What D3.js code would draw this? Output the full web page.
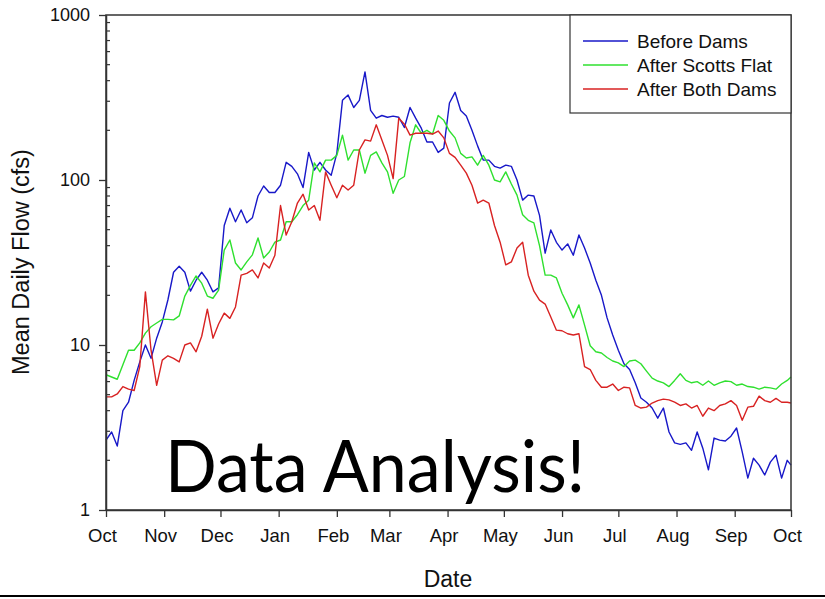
<!DOCTYPE html>
<html>
<head>
<meta charset="utf-8">
<script src="https://cdn.jsdelivr.net/npm/d3@7/dist/d3.min.js"></script>
<style>
  html, body { margin: 0; padding: 0; background: #fff; }
  svg { display: block; }
</style>
</head>
<body>
<svg id="chart" width="825" height="599"></svg>
<script>
// ---- data (mean daily flow, cfs), sampled every 3 days from Oct 1 + final day 365 ----
const dayOffsets = d3.range(0, 364, 3).concat([365]);

const beforeDams = [
  2.65, 2.97, 2.44, 4.0, 4.5, 6.1, 7.9, 10, 8.3, 11.0,
  13.8, 18.8, 27.6, 30, 27.6, 21.2, 24.7, 27.6, 24.7, 21,
  22.2, 53, 67.5, 55.8, 65.8, 55, 59, 80, 92, 84,
  84, 93, 128, 121, 109, 90, 147, 115, 128, 115,
  107, 145, 304, 327, 275, 304, 452, 264, 237, 246,
  240, 244, 240, 208, 275, 237, 206, 170, 170, 147,
  156, 293, 340, 264, 244, 200, 161, 132, 132, 121,
  118, 123, 121, 100, 75.5, 81, 80, 61, 36, 49.8,
  41.9, 37.6, 41, 35, 46.4, 38.7, 31.4, 24.7, 20, 14.6,
  11.5, 9.3, 7.7, 7.1, 5.9, 4.77, 4.5, 4.15, 3.6, 4.15,
  2.97, 2.55, 2.5, 2.55, 2.3, 2.97, 2.37, 1.75, 2.73, 2.65,
  2.62, 2.8, 3.14, 2.25, 1.56, 2.06, 1.87, 1.63, 1.95, 2.15,
  1.56, 2.0, 1.87
];

const afterScottsFlat = [
  6.6, 6.4, 6.2, 7.6, 9.3, 9.3, 10.3, 11.8, 12.9, 13.6,
  14.3, 14.3, 14.2, 15, 19.8, 23, 26.2, 23.7, 19.8, 19.2,
  21.5, 37.6, 43.3, 31.4, 28.5, 31.9, 35.2, 44.5, 33.7, 36.6,
  42, 43.3, 55.8, 55.8, 61.6, 70, 75.5, 127, 112, 132,
  132, 141, 187, 132, 152, 152, 110, 141, 148, 127,
  112, 83, 100, 105, 168, 216, 192, 200, 190, 246,
  230, 198, 180, 145, 136, 138, 123, 141, 123, 100,
  97.5, 112, 94.5, 81, 61.6, 57, 55, 40, 26.5, 26.5,
  25.5, 20.6, 17.5, 14.6, 17.5, 13.2, 9.9, 9.1, 8.95, 8.4,
  8.0, 7.8, 7.4, 8.0, 8.1, 7.7, 6.95, 6.3, 6.05, 5.9,
  5.6, 6.1, 6.7, 6.1, 5.9, 6.0, 5.7, 6.05, 5.7, 5.9,
  6.05, 6.0, 5.7, 5.8, 5.6, 5.55, 5.4, 5.55, 5.5, 5.4,
  5.8, 6.1, 6.4
];

const afterBothDams = [
  4.85, 4.85, 5.05, 5.6, 5.4, 5.3, 7.4, 21, 9.3, 5.7,
  8.1, 8.6, 8.3, 7.9, 10, 10.3, 9.1, 11.3, 16.5, 11,
  13.4, 15.6, 14.5, 17, 26.5, 27.2, 28.5, 25.5, 31.4, 29.3,
  35, 70, 46.4, 55.8, 72.5, 82, 65.8, 70, 57, 112,
  93, 78, 93, 87, 93, 152, 175, 172, 216, 175,
  141, 102, 237, 218, 187, 192, 192, 192, 190, 198,
  180, 145, 137, 123, 110, 93, 72.5, 75.5, 72.5, 53,
  42, 30.6, 31.9, 38.7, 42, 26.5, 21.2, 18.7, 17.7, 14.8,
  12.3, 12.2, 11.7, 11.5, 11.7, 7.4, 7.1, 6.1, 5.55, 5.55,
  5.8, 5.3, 5.55, 5.5, 4.3, 4.15, 4.2, 4.45, 4.6, 4.7,
  4.65, 4.5, 4.3, 4.4, 4.15, 4.3, 3.7, 4.15, 4.0, 4.3,
  4.4, 4.6, 4.3, 3.5, 4.2, 4.25, 4.9, 4.6, 4.5, 4.75,
  4.5, 4.5, 4.45
];

const monthLabels = ["Oct","Nov","Dec","Jan","Feb","Mar","Apr","May","Jun","Jul","Aug","Sep","Oct"];
const monthStartDays = [0, 31, 61, 92, 123, 151, 182, 212, 243, 273, 304, 335, 365];
const yMajorTicks = [1, 10, 100, 1000];
const seriesNames = ["Before Dams", "After Scotts Flat", "After Both Dams"];
const seriesColors = ["#1818c8", "#2fe02f", "#d82222"];

// ---- layout ----
const plotLeft = 106, plotRight = 791, plotTop = 15, plotBottom = 510;
const svg = d3.select("#chart");
const font = "'Liberation Sans', Arial, sans-serif";

const x = d3.scaleLinear().domain([0, 365]).range([plotLeft, plotRight]);
const y = d3.scaleLog().domain([1, 1000]).range([plotBottom, plotTop]);

// bottom slide border line
svg.append("line").attr("x1", 0).attr("x2", 825).attr("y1", 596).attr("y2", 596)
  .attr("stroke", "#000").attr("stroke-width", 2);

// series lines
const allSeries = [beforeDams, afterScottsFlat, afterBothDams];
const line = d3.line().x(d => x(d[0])).y(d => y(d[1]));
allSeries.forEach((vals, i) => {
  const pts = dayOffsets.map((dd, j) => [dd, vals[j]]);
  svg.append("path").datum(pts)
    .attr("fill", "none").attr("stroke", seriesColors[i])
    .attr("stroke-width", 1.4).attr("stroke-linejoin", "round")
    .attr("d", line);
});

// frame
svg.append("rect").attr("x", plotLeft).attr("y", plotTop)
  .attr("width", plotRight - plotLeft).attr("height", plotBottom - plotTop)
  .attr("fill", "none").attr("stroke", "#333").attr("stroke-width", 1.5);

// x axis
const xAxis = d3.axisBottom(x).tickValues(monthStartDays)
  .tickFormat((d, i) => monthLabels[i]).tickSize(7).tickSizeOuter(0).tickPadding(12);
const gx = svg.append("g").attr("transform", `translate(0,${plotBottom})`).call(xAxis);
gx.select(".domain").attr("stroke", "#333").attr("stroke-width", 1.5);
gx.selectAll(".tick line").attr("stroke", "#333").attr("stroke-width", 1.3);
gx.selectAll(".tick text").attr("font-family", font).attr("font-size", 18.5)
  .attr("fill", "#111").attr("dx", -4);

// y axis major
const yAxis = d3.axisLeft(y).tickValues(yMajorTicks).tickFormat(d3.format("d"))
  .tickSize(7).tickSizeOuter(0).tickPadding(9);
const gy = svg.append("g").attr("transform", `translate(${plotLeft},0)`).call(yAxis);
gy.select(".domain").attr("stroke", "#333").attr("stroke-width", 1.5);
gy.selectAll(".tick line").attr("stroke", "#333").attr("stroke-width", 1.3);
gy.selectAll(".tick text").attr("font-family", font).attr("font-size", 18).attr("fill", "#111");

// y minor ticks (inward)
const minor = [];
[1, 10, 100].forEach(b => { for (let m = 2; m <= 9; m++) minor.push(b * m); });
svg.append("g").selectAll("line").data(minor).join("line")
  .attr("x1", plotLeft).attr("x2", plotLeft + 4)
  .attr("y1", d => y(d)).attr("y2", d => y(d))
  .attr("stroke", "#333").attr("stroke-width", 1.2);

// axis titles
svg.append("text").attr("x", 448).attr("y", 587).attr("text-anchor", "middle")
  .attr("font-family", font).attr("font-size", 23).attr("fill", "#111").text("Date");
svg.append("text").attr("transform", "translate(29,262) rotate(-90)")
  .attr("text-anchor", "middle").attr("font-family", font).attr("font-size", 23.5)
  .attr("fill", "#111").text("Mean Daily Flow (cfs)");

// legend
const lg = svg.append("g");
lg.append("rect").attr("x", 570).attr("y", plotTop).attr("width", plotRight - 570).attr("height", 98)
  .attr("fill", "#fff").attr("stroke", "#333").attr("stroke-width", 1.2);
seriesNames.forEach((name, i) => {
  const ly = 41 + i * 24;
  lg.append("line").attr("x1", 583).attr("x2", 628).attr("y1", ly).attr("y2", ly)
    .attr("stroke", seriesColors[i]).attr("stroke-width", 1.4);
  lg.append("text").attr("x", 637).attr("y", ly).attr("dy", "0.35em")
    .attr("font-family", font).attr("font-size", 19).attr("fill", "#111").text(name);
});

// overlay caption
svg.append("text").attr("x", 165).attr("y", 492)
  .attr("font-family", "Lato, 'Open Sans', sans-serif").attr("font-size", 72)
  .attr("textLength", 420).attr("lengthAdjust", "spacingAndGlyphs")
  .attr("fill", "#000").text("Data Analysis!");
</script>
</body>
</html>
